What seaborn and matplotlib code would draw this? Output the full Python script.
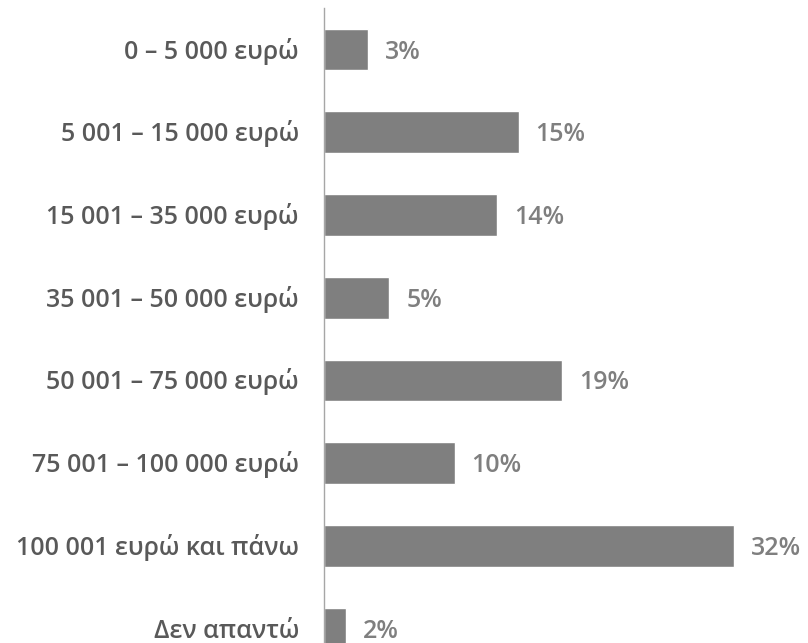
import matplotlib
matplotlib.use("Agg")
import matplotlib.pyplot as plt
import seaborn as sns
import pandas as pd

categories = ["0 – 5 000 ευρώ", "5 001 – 15 000 ευρώ", "15 001 – 35 000 ευρώ",
              "35 001 – 50 000 ευρώ", "50 001 – 75 000 ευρώ", "75 001 – 100 000 ευρώ",
              "100 001 ευρώ και πάνω", "Δεν απαντώ"]
values = [3.4, 15.2, 13.5, 5.1, 18.6, 10.2, 32.0, 1.7]
value_labels = ["3%", "15%", "14%", "5%", "19%", "10%", "32%", "2%"]

df = pd.DataFrame({"cat": categories, "val": values})

sns.set_theme(style="white")
plt.rcParams['font.family'] = ['Open Sans', 'DejaVu Sans']

W, H = 808, 643
fig = plt.figure(figsize=(W / 100, H / 100), dpi=100)
ax_left, ax_right, ax_top, ax_bottom = 324, 780, 8, 643
ax = fig.add_axes([ax_left / W, 1 - ax_bottom / H, (ax_right - ax_left) / W, (ax_bottom - ax_top) / H])

sns.barplot(data=df, y="cat", x="val", orient="h", color="#7f7f7f", width=0.504,
            saturation=1, ax=ax)
ax.set_xlim(0, (ax_right - ax_left) / 12.8)
ax.set_ylim(7.173, -0.502)
ax.set_xlabel("")
ax.set_ylabel("")
ax.set_xticks([])
ax.set_yticklabels([])
for s in ["top", "right", "bottom"]:
    ax.spines[s].set_visible(False)
ax.spines["left"].set_color("#a6a6a6")
ax.spines["left"].set_linewidth(1.0)
ax.tick_params(axis="y", length=0)

for i, cat in enumerate(categories):
    ax.annotate(cat, xy=(0, i), xytext=(-25, -9), textcoords="offset pixels",
                ha="right", va="baseline", fontsize=18, color="#595959",
                fontweight="semibold", annotation_clip=False)

for i, (v, lab) in enumerate(zip(values, value_labels)):
    ax.annotate(lab, xy=(v, i), xytext=(17, -9), textcoords="offset pixels",
                ha="left", va="baseline", fontsize=18, color="#7f7f7f",
                fontweight="semibold", annotation_clip=False)

fig.savefig("out.png", dpi=100)
